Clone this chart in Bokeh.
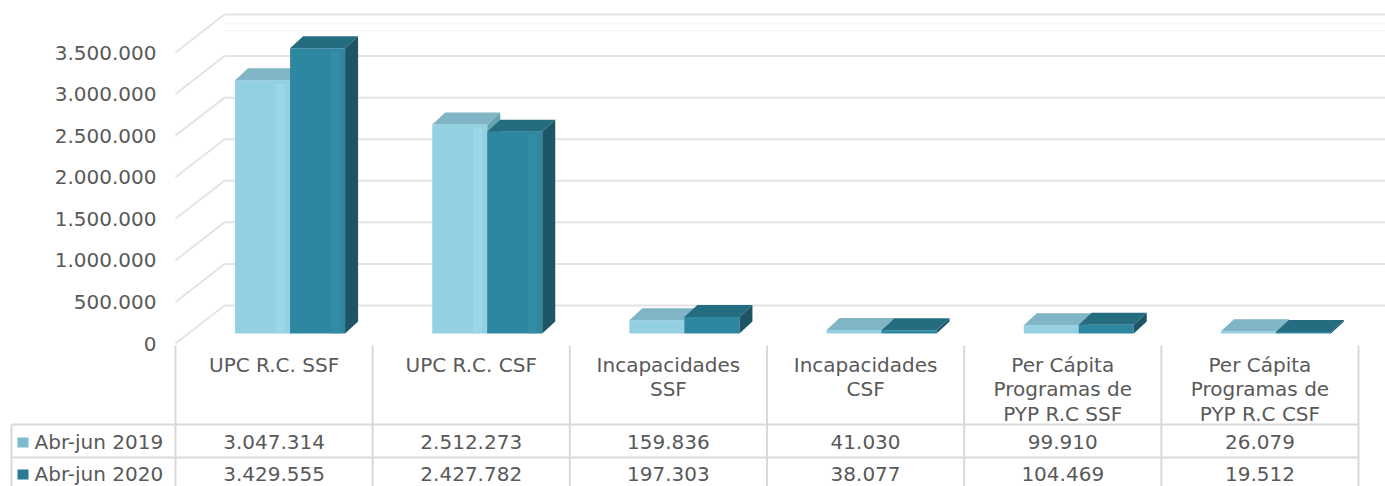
from bokeh.plotting import figure
from bokeh.models import Range1d
from bokeh.core.properties import value
from bokeh.embed import file_html
from bokeh.resources import INLINE

# ---------------- data ----------------
categories = ["UPC R.C. SSF", "UPC R.C. CSF", "Incapacidades\nSSF", "Incapacidades\nCSF",
              "Per Cápita\nProgramas de\nPYP R.C SSF", "Per Cápita\nProgramas de\nPYP R.C CSF"]
series_names = ["Abr-jun 2019", "Abr-jun 2020"]
values_2019 = [3047314, 2512273, 159836, 41030, 99910, 26079]
values_2020 = [3429555, 2427782, 197303, 38077, 104469, 19512]
y_ticks = [0, 500000, 1000000, 1500000, 2000000, 2500000, 3000000, 3500000]

# ---------------- styling / geometry (canvas pixels) ----------------
FONT = "DejaVu Sans"
TXT = "#595959"
GRID = "#e4e4e4"
TLINE = "#d9d9d9"
W, H = 1385, 486
X0 = 175             # left edge of plot area / table body
Y0 = 343             # pixel row of value 0 on the front plane
K = 291.0 / 3.5e6    # px per value unit
CW = 1183.0 / 6      # px per category
n = len(categories)

def fmt(v):
    return f"{v:,}".replace(",", ".")

def px_y(px):
    return px / K

def px_x(px):
    return px / CW

p = figure(width=W, height=H, x_range=Range1d(0, W), y_range=Range1d(H, 0),
           output_backend="svg", toolbar_location=None, x_axis_type=None, y_axis_type=None)
p.min_border = 0
p.min_border_left = 0
p.min_border_right = 0
p.min_border_top = 0
p.min_border_bottom = 0
p.outline_line_color = None
p.xgrid.visible = False
p.ygrid.visible = False
p.background_fill_color = "white"
p.border_fill_color = "white"
# category scale (x) and value scale (y) mapped onto the same canvas
p.extra_x_ranges = {"cat": Range1d(-X0 / CW, (W - X0) / CW)}
p.extra_y_ranges = {"val": Range1d((Y0 - H) / K, Y0 / K)}
xmax = (W - X0) / CW

# ---------------- value axis labels ----------------
p.text(x=[156] * len(y_ticks), y=y_ticks, text=[fmt(t) for t in y_ticks], y_range_name="val",
       text_align="right", text_baseline="middle", text_font=value(FONT),
       text_font_size="20px", text_color=TXT)

# ---------------- back wall gridlines (oblique projection) ----------------
GDX = px_x(49)
GDY = px_y(38)
nt = len(y_ticks)
p.segment(x0=[0] * nt, y0=y_ticks, x1=[GDX] * nt, y1=[t + GDY for t in y_ticks],
          x_range_name="cat", y_range_name="val", line_color=GRID, line_width=2)
p.segment(x0=[GDX] * nt, y0=[t + GDY for t in y_ticks], x1=[xmax] * nt,
          y1=[t + GDY for t in y_ticks], x_range_name="cat", y_range_name="val",
          line_color=GRID, line_width=2)
top_back = y_ticks[-1] + GDY
p.segment(x0=[GDX, GDX], y0=[top_back - px_y(9), top_back - px_y(16)], x1=[xmax, xmax],
          y1=[top_back - px_y(9), top_back - px_y(16)], x_range_name="cat", y_range_name="val",
          line_color="#f5f5f5", line_width=1.5)

# ---------------- bars with faux 3D ----------------
BDX = px_x(16)
BASE = px_y(10)
BW = px_x(55)
SDX = px_x(13)
SDY = px_y(12)
HL = px_x(9)

series = [
    (values_2019, -BW / 2, "#93d0e1", "#7fb5c5", "#6aa3b3", "#a3dded"),
    (values_2020, BW / 2, "#2e87a0", "#246c80", "#1d5565", "#3691aa"),
]
for i in range(n):
    for vals, off, front, topc, side, hl in series:
        v = vals[i]
        xc = i + 0.5 + BDX + off
        xl, xr = xc - BW / 2, xc + BW / 2
        b, t = BASE, BASE + v
        p.vbar(x=[xc], width=BW, bottom=[b], top=[t], fill_color=front, line_color=None,
               x_range_name="cat", y_range_name="val")
        if v > 300000:
            p.vbar(x=[xr - HL * 1.1], width=HL, bottom=[b], top=[t - px_y(3)], fill_color=hl,
                   line_color=None, fill_alpha=0.55, x_range_name="cat", y_range_name="val")
        p.patch(x=[xl, xr, xr + SDX, xl + SDX], y=[t, t, t + SDY, t + SDY],
                fill_color=topc, line_color=None, x_range_name="cat", y_range_name="val")
        p.patch(x=[xr, xr, xr + SDX, xr + SDX], y=[b, t, t + SDY, b + SDY],
                fill_color=side, line_color=None, x_range_name="cat", y_range_name="val")

# ---------------- data table ----------------
cols = [X0 + CW * j for j in range(n + 1)]
centers = [X0 + CW * (j + 0.5) for j in range(n)]
ROW_TOP = 424
ROW_MID = 457
ROW1_Y = 441
ROW2_Y = 473
LEFT = 11
TBL_TOP = 345

p.segment(x0=cols, y0=[TBL_TOP] * len(cols), x1=cols, y1=[H + 2] * len(cols),
          line_color=TLINE, line_width=2)
p.segment(x0=[LEFT], y0=[ROW_TOP], x1=[LEFT], y1=[H + 2], line_color=TLINE, line_width=2)
p.segment(x0=[LEFT, LEFT], y0=[ROW_TOP, ROW_MID], x1=[cols[-1], cols[-1]], y1=[ROW_TOP, ROW_MID],
          line_color=TLINE, line_width=2)

hx, hy, ht = [], [], []
for j, c in enumerate(categories):
    for k, line in enumerate(c.split("\n")):
        hx.append(centers[j])
        hy.append(364 + 24.5 * k)
        ht.append(line)
p.text(x=hx, y=hy, text=ht, text_align="center", text_baseline="middle",
       text_font=value(FONT), text_font_size="20px", text_color=TXT)

vx = centers + centers
vy = [ROW1_Y] * n + [ROW2_Y] * n
vt = [fmt(v) for v in values_2019] + [fmt(v) for v in values_2020]
p.text(x=vx, y=vy, text=vt, text_align="center", text_baseline="middle",
       text_font=value(FONT), text_font_size="20px", text_color=TXT)

p.rect(x=[22.5, 22.5], y=[ROW1_Y + 1, ROW2_Y + 1], width=11, height=10,
       fill_color=["#7dbcce", "#2a7b92"], line_color=None)
p.text(x=[34, 34], y=[ROW1_Y, ROW2_Y], text=series_names, text_align="left", text_baseline="middle",
       text_font=value(FONT), text_font_size="20px", text_color=TXT)

open("out.html", "w").write(file_html(p, INLINE))
